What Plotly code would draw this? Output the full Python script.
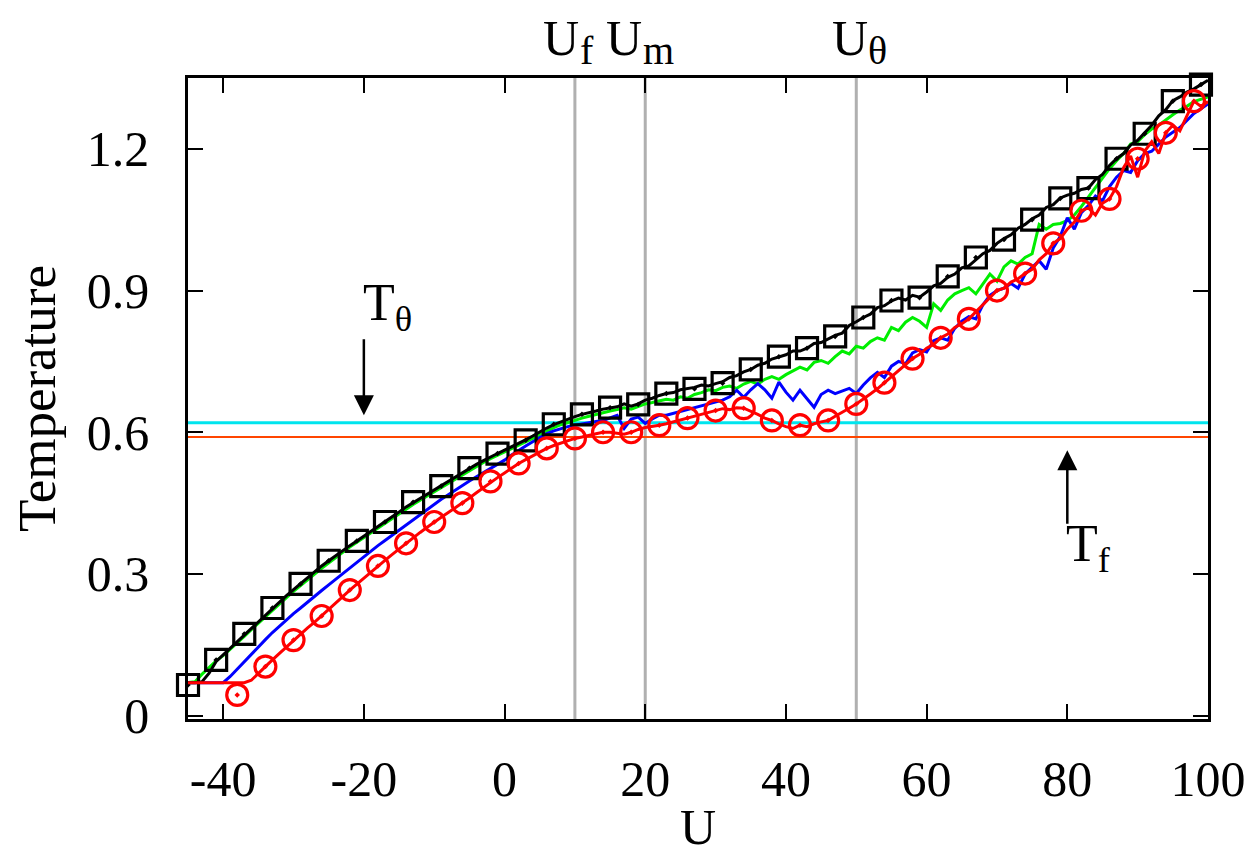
import plotly.graph_objects as go

# ---------------- data ----------------
U_LINE = list(range(-45, 101))

BLACK_LINE = [
    0.070, 0.070, 0.072, 0.090, 0.115,
    0.129, 0.143, 0.157, 0.172, 0.186, 0.200, 0.214, 0.228, 0.241, 0.254,
    0.267, 0.280, 0.292, 0.305, 0.317, 0.328, 0.339, 0.349, 0.360, 0.370,
    0.380, 0.390, 0.400, 0.410, 0.421, 0.431, 0.442, 0.451, 0.460, 0.469,
    0.478, 0.487, 0.496, 0.506, 0.515, 0.524, 0.532, 0.540, 0.548, 0.555,
    0.562, 0.569, 0.576, 0.584, 0.592, 0.601, 0.609, 0.616, 0.622, 0.627,
    0.633, 0.638, 0.641, 0.645, 0.649, 0.652, 0.654, 0.660, 0.655, 0.660,
    0.668, 0.672, 0.678, 0.682, 0.684, 0.690, 0.692, 0.695, 0.700, 0.698,
    0.703, 0.707, 0.716, 0.720, 0.728, 0.733, 0.742, 0.746, 0.755, 0.760,
    0.764, 0.772, 0.772, 0.778, 0.788, 0.790, 0.798, 0.805, 0.810, 0.826,
    0.834, 0.843, 0.850, 0.864, 0.868, 0.878, 0.884, 0.880, 0.890, 0.886,
    0.897, 0.910, 0.915, 0.928, 0.935, 0.948, 0.952, 0.964, 0.978, 0.985,
    1.000, 1.010, 1.018, 1.032, 1.040, 1.052, 1.060, 1.076, 1.082, 1.096,
    1.102, 1.106, 1.114, 1.117, 1.135, 1.146, 1.165, 1.179, 1.190, 1.208,
    1.218, 1.234, 1.250, 1.270, 1.283, 1.302, 1.310, 1.320, 1.327, 1.336,
    1.345,
]

GREEN_LINE = [
    0.070, 0.072, 0.088, 0.103, 0.116,
    0.127, 0.140, 0.154, 0.168, 0.182, 0.196, 0.210, 0.223, 0.237, 0.250,
    0.263, 0.276, 0.288, 0.300, 0.312, 0.324, 0.335, 0.346, 0.357, 0.367,
    0.377, 0.387, 0.397, 0.407, 0.417, 0.428, 0.438, 0.447, 0.456, 0.465,
    0.474, 0.483, 0.492, 0.501, 0.510, 0.519, 0.528, 0.536, 0.544, 0.551,
    0.558, 0.565, 0.572, 0.579, 0.587, 0.595, 0.603, 0.610, 0.616, 0.621,
    0.626, 0.630, 0.634, 0.638, 0.642, 0.645, 0.648, 0.652, 0.649, 0.655,
    0.660, 0.663, 0.667, 0.670, 0.668, 0.675, 0.672, 0.680, 0.684, 0.690,
    0.688, 0.695, 0.698, 0.693, 0.702, 0.708, 0.702, 0.712, 0.718, 0.712,
    0.722, 0.730, 0.738, 0.732, 0.748, 0.752, 0.746, 0.760, 0.772, 0.766,
    0.782, 0.778, 0.792, 0.800, 0.795, 0.822, 0.815, 0.833, 0.843, 0.835,
    0.822, 0.872, 0.858, 0.880, 0.893, 0.900, 0.906, 0.893, 0.915, 0.935,
    0.920, 0.950, 0.963, 0.956, 0.970, 0.978, 1.040, 1.030, 1.040, 1.042,
    1.048, 1.060, 1.078, 1.098, 1.118, 1.137, 1.158, 1.175, 1.190, 1.210,
    1.215, 1.230, 1.242, 1.250, 1.262, 1.272, 1.282, 1.290, 1.300, 1.305,
    1.310,
]

BLUE_LINE = [
    0.070, 0.070, 0.070, 0.070, 0.070,
    0.070, 0.083, 0.099, 0.115, 0.130, 0.146, 0.161, 0.176, 0.190, 0.203,
    0.216, 0.228, 0.241, 0.253, 0.265, 0.277, 0.289, 0.301, 0.313, 0.325,
    0.337, 0.348, 0.360, 0.371, 0.382, 0.393, 0.404, 0.415, 0.426, 0.437,
    0.448, 0.458, 0.468, 0.478, 0.488, 0.497, 0.506, 0.515, 0.524, 0.533,
    0.541, 0.552, 0.562, 0.571, 0.580, 0.589, 0.597, 0.603, 0.608, 0.612,
    0.615, 0.618, 0.620, 0.623, 0.625, 0.630, 0.636, 0.608, 0.628, 0.632,
    0.619, 0.628, 0.636, 0.636, 0.640, 0.645, 0.649, 0.653, 0.657, 0.661,
    0.665, 0.668, 0.675, 0.689, 0.674, 0.690, 0.703, 0.690, 0.672, 0.706,
    0.685, 0.668, 0.689, 0.672, 0.653, 0.680, 0.689, 0.682, 0.688, 0.693,
    0.682, 0.700, 0.715, 0.727, 0.716, 0.740, 0.750, 0.745, 0.768, 0.775,
    0.770, 0.794, 0.800, 0.795, 0.820, 0.835, 0.845, 0.840, 0.870, 0.890,
    0.900, 0.905, 0.915, 0.905, 0.935, 0.950, 0.963, 0.945, 0.990, 1.015,
    1.054, 1.030, 1.065, 1.080, 1.100, 1.090, 1.120, 1.140, 1.154, 1.150,
    1.175, 1.190, 1.195, 1.210, 1.225, 1.235, 1.245, 1.260, 1.275, 1.285,
    1.295,
]

RED_LINE = [
    0.070, 0.070, 0.070, 0.070, 0.070,
    0.070, 0.070, 0.070, 0.070, 0.075, 0.090, 0.104, 0.118, 0.132, 0.146,
    0.160, 0.173, 0.186, 0.198, 0.211, 0.225, 0.239, 0.252, 0.266, 0.279,
    0.292, 0.304, 0.317, 0.329, 0.341, 0.353, 0.365, 0.376, 0.388, 0.399,
    0.410, 0.420, 0.430, 0.440, 0.450, 0.461, 0.472, 0.483, 0.494, 0.504,
    0.514, 0.524, 0.534, 0.542, 0.550, 0.558, 0.566, 0.572, 0.577, 0.582,
    0.587, 0.590, 0.594, 0.597, 0.600, 0.600, 0.598, 0.596, 0.600, 0.606,
    0.610, 0.612, 0.615, 0.618, 0.622, 0.626, 0.630, 0.634, 0.638, 0.642,
    0.646, 0.650, 0.648, 0.652, 0.651, 0.645, 0.638, 0.630, 0.625, 0.618,
    0.612, 0.608, 0.615, 0.612, 0.618, 0.622, 0.625, 0.634, 0.642, 0.651,
    0.660, 0.670, 0.681, 0.692, 0.705, 0.716, 0.730, 0.742, 0.756, 0.765,
    0.778, 0.786, 0.800, 0.808, 0.822, 0.830, 0.840, 0.855, 0.870, 0.885,
    0.900, 0.905, 0.918, 0.925, 0.936, 0.945, 0.965, 0.978, 1.000, 1.010,
    1.030, 1.045, 1.069, 1.075, 1.060, 1.085, 1.094, 1.120, 1.160, 1.185,
    1.140, 1.195, 1.215, 1.190, 1.234, 1.250, 1.238, 1.270, 1.301, 1.290,
    1.300,
]

U_SQUARES = [-45, -41, -37, -33, -29, -25, -21, -17, -13, -9, -5, -1, 3, 7, 11,
             15, 19, 23, 27, 31, 35, 39, 43, 47, 51, 55, 59, 63, 67, 71, 75, 79,
             83, 87, 91, 95, 99]
T_SQUARES = [0.065, 0.118, 0.173, 0.228, 0.279, 0.328, 0.370, 0.410, 0.452,
             0.486, 0.524, 0.555, 0.583, 0.617, 0.638, 0.652, 0.659, 0.682,
             0.692, 0.704, 0.733, 0.760, 0.778, 0.803, 0.843, 0.879, 0.885,
             0.930, 0.970, 1.008, 1.050, 1.095, 1.117, 1.179, 1.232, 1.301,
             1.336]

U_CIRCLES = [-38, -34, -30, -26, -22, -18, -14, -10, -6, -2, 2, 6, 10, 14, 18,
             22, 26, 30, 34, 38, 42, 46, 50, 54, 58, 62, 66, 70, 74, 78, 82, 86,
             90, 94, 98]
T_CIRCLES = [0.044, 0.104, 0.160, 0.211, 0.266, 0.317, 0.365, 0.410, 0.450,
             0.496, 0.534, 0.566, 0.587, 0.600, 0.600, 0.615, 0.630, 0.646,
             0.651, 0.625, 0.615, 0.625, 0.660, 0.705, 0.756, 0.800, 0.840,
             0.900, 0.936, 1.000, 1.069, 1.094, 1.179, 1.234, 1.301]

T_THETA = 0.62
T_F = 0.59
U_MARKS = [10, 20, 50]
U_MARK_SUBS = ["f", "m", "θ"]
U_LABEL_POS = [5.2, 14.2, 46.2]
U_SUB_POS = [10.4, 19.4, 51.4]

X_TICKS = [-40, -20, 0, 20, 40, 60, 80, 100]
X_TICK_TEXT = ["-40", "-20", "0", "20", "40", "60", "80", "100"]
Y_TICKS = [0, 0.3, 0.6, 0.9, 1.2]
Y_TICK_TEXT = ["0", "0.3", "0.6", "0.9", "1.2"]

FONT = "Liberation Serif"

fig = go.Figure()

# reference levels
fig.add_trace(go.Scatter(x=[-45, 100], y=[T_THETA, T_THETA], mode="lines",
                         line=dict(color="#00e5ee", width=3), hoverinfo="skip"))
fig.add_trace(go.Scatter(x=[-45, 100], y=[T_F, T_F], mode="lines",
                         line=dict(color="#ff4500", width=2), hoverinfo="skip"))

fig.add_trace(go.Scatter(x=U_LINE, y=GREEN_LINE, mode="lines",
                         line=dict(color="#00ee00", width=3)))
fig.add_trace(go.Scatter(x=U_LINE, y=BLUE_LINE, mode="lines",
                         line=dict(color="#0000ff", width=3)))
fig.add_trace(go.Scatter(x=U_LINE, y=BLACK_LINE, mode="lines",
                         line=dict(color="#000000", width=3)))
fig.add_trace(go.Scatter(x=U_SQUARES, y=T_SQUARES, mode="markers",
                         cliponaxis=False,
                         marker=dict(symbol="square-open-dot", size=21,
                                     color="#000000",
                                     line=dict(color="#000000", width=3.2))))
fig.add_trace(go.Scatter(x=U_LINE, y=RED_LINE, mode="lines",
                         line=dict(color="#ff0000", width=3)))
fig.add_trace(go.Scatter(x=U_CIRCLES, y=T_CIRCLES, mode="markers",
                         cliponaxis=False,
                         marker=dict(symbol="circle-open-dot", size=21,
                                     color="#ff0000",
                                     line=dict(color="#ff0000", width=3.2))))

shapes = []
for u in U_MARKS:
    shapes.append(dict(type="line", xref="x", yref="paper", x0=u, x1=u,
                       y0=0, y1=1, layer="below",
                       line=dict(color="#b0b0b0", width=3)))

annotations = []
for pos, spos, sub in zip(U_LABEL_POS, U_SUB_POS, U_MARK_SUBS):
    annotations.append(dict(x=pos, xref="x", y=1, yref="paper",
                            xanchor="left", yanchor="top", yshift=70,
                            text="U", showarrow=False,
                            font=dict(family=FONT, size=50, color="black")))
    annotations.append(dict(x=spos, xref="x", y=1, yref="paper",
                            xanchor="left", yanchor="top", yshift=52,
                            text=sub, showarrow=False,
                            font=dict(family=FONT, size=40, color="black")))

# arrows
annotations.append(dict(x=-20, y=0.636, ax=-20, ay=0.80, xref="x", yref="y",
                        axref="x", ayref="y", text="", showarrow=True,
                        arrowhead=2, arrowsize=1.6, arrowwidth=2.5,
                        arrowcolor="black"))
annotations.append(dict(x=80, y=0.562, ax=80, ay=0.403, xref="x", yref="y",
                        axref="x", ayref="y", text="", showarrow=True,
                        arrowhead=2, arrowsize=1.6, arrowwidth=2.5,
                        arrowcolor="black"))
annotations.append(dict(x=-20.4, y=0.94, xref="x", yref="y", xanchor="left",
                        yanchor="top", text="T<sub>θ</sub>", showarrow=False,
                        font=dict(family=FONT, size=52, color="black")))
annotations.append(dict(x=79.5, y=0.43, xref="x", yref="y", xanchor="left",
                        yanchor="top", text="T<sub>f</sub>", showarrow=False,
                        font=dict(family=FONT, size=52, color="black")))

fig.update_layout(
    width=1252, height=856,
    margin=dict(l=180, r=52, t=70, b=145),
    paper_bgcolor="white", plot_bgcolor="white",
    showlegend=False,
    font=dict(family=FONT, size=50, color="black"),
    shapes=shapes, annotations=annotations,
)
fig.update_xaxes(range=[-45, 100], tickvals=X_TICKS, ticktext=X_TICK_TEXT,
                 showgrid=False, automargin=False,
                 zeroline=False, showline=True, mirror="ticks",
                 linecolor="black", linewidth=2.5, ticks="inside",
                 ticklen=15, tickwidth=2, tickcolor="black",
                 ticklabelstandoff=14,
                 title=dict(text="U", font=dict(family=FONT, size=50),
                            standoff=4))
fig.update_yaxes(range=[-0.007, 1.35], tickvals=Y_TICKS, ticktext=Y_TICK_TEXT,
                 showgrid=False, zeroline=False, showline=True, mirror="ticks",
                 automargin=False,
                 linecolor="black", linewidth=2.5, ticks="inside",
                 ticklen=15, tickwidth=2, tickcolor="black",
                 ticklabelstandoff=26,
                 title=dict(text="Temperature", font=dict(family=FONT, size=53),
                            standoff=38))

fig.write_html("out.html")
